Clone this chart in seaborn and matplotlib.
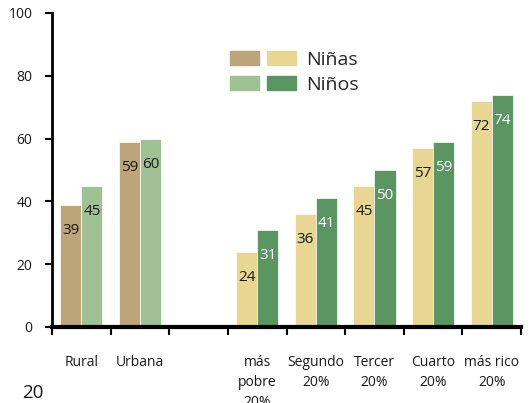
import numpy as np
import pandas as pd
import matplotlib
matplotlib.use('Agg')
import matplotlib.pyplot as plt
from matplotlib.patches import Patch
from matplotlib.legend_handler import HandlerTuple
import seaborn as sns

# datos (%)
categorias = ['Rural', 'Urbana', ' ', 'más\npobre\n20%', 'Segundo\n20%',
              'Tercer\n20%', 'Cuarto\n20%', 'más rico\n20%']
area = ['Rural', 'Urbana']
quintiles = ['más\npobre\n20%', 'Segundo\n20%', 'Tercer\n20%', 'Cuarto\n20%', 'más rico\n20%']
ninas_area = [39, 59]
ninos_area = [45, 60]
ninas_quintil = [24, 36, 45, 57, 72]
ninos_quintil = [31, 41, 50, 59, 74]
sexos = ['Niñas', 'Niños']
yticks = [0, 20, 40, 60, 80, 100]

df_area = pd.DataFrame({
    'Categoria': area * 2,
    'Sexo': ['Niñas'] * len(area) + ['Niños'] * len(area),
    'Valor': ninas_area + ninos_area,
})
df_quintil = pd.DataFrame({
    'Categoria': quintiles * 2,
    'Sexo': ['Niñas'] * len(quintiles) + ['Niños'] * len(quintiles),
    'Valor': ninas_quintil + ninos_quintil,
})

tan, verde_claro = '#BCA578', '#9FC193'
amarillo, verde = '#E8D792', '#5B9561'

sns.set_style('white')
plt.rcParams['font.family'] = ['Open Sans', 'DejaVu Sans']

fig = plt.figure(figsize=(5.32, 4.03), dpi=100)
ax = fig.add_axes([52 / 532, 76 / 403, 469 / 532, 314 / 403])

common = dict(x='Categoria', y='Valor', hue='Sexo', order=categorias, hue_order=sexos,
              width=0.72, saturation=1, errorbar=None, legend=False, ax=ax,
              edgecolor='white', linewidth=0.5)
sns.barplot(data=df_area, palette=[tan, verde_claro], **common)
sns.barplot(data=df_quintil, palette=[amarillo, verde], **common)

# etiquetas de valor dentro de las barras
colores_txt = ['#1a1a1a', '#1a1a1a', '#1a1a1a', 'white']
for cont, col in zip(ax.containers, colores_txt):
    for bar in cont:
        h = bar.get_height()
        if np.isnan(h):
            continue
        ax.annotate(f'{h:.0f}', (bar.get_x() + bar.get_width() / 2, h),
                    xytext=(0, -17), textcoords='offset points',
                    ha='center', va='center_baseline', fontsize=11, color=col)

ax.set_ylim(0, 100)
ax.set_xlim(-0.5, len(categorias) - 0.5)
ax.set_yticks(yticks)
ax.set_yticklabels([str(v) for v in yticks], fontsize=10, color='#1a1a1a')
ax.set_xticks(np.arange(-0.5, len(categorias), 1))
ax.set_xticklabels([])
ax.set_xticks(np.arange(len(categorias)), labels=categorias, minor=True)
ax.tick_params(axis='x', which='minor', bottom=True, length=0, pad=20, labelsize=10,
               labelcolor='#1a1a1a')
ax.tick_params(axis='x', which='major', bottom=True, direction='out', length=6,
               width=1.5, color='black')
ax.tick_params(axis='y', left=True, direction='out', length=5, width=1.5, pad=9,
               color='black')
ax.set_xlabel('')
ax.set_ylabel('')
for lbl in ax.get_xticklabels(minor=True):
    lbl.set_linespacing(1.45)

sns.despine(ax=ax)
ax.spines['left'].set_linewidth(2)
ax.spines['bottom'].set_linewidth(3)
ax.spines['left'].set_color('black')
ax.spines['bottom'].set_color('black')

handles = [(Patch(color=tan), Patch(color=amarillo)),
           (Patch(color=verde_claro), Patch(color=verde))]
ax.legend(handles, sexos, handler_map={tuple: HandlerTuple(ndivide=None, pad=0.41)},
          handlelength=3.4, handleheight=0.7, handletextpad=0.5, labelspacing=0.35,
          fontsize=14, frameon=False, borderpad=0, borderaxespad=0,
          loc='upper left', bbox_to_anchor=(230 / 532, 1 - 51 / 403),
          bbox_transform=fig.transFigure)

fig.text(22 / 532, 5 / 403, '20', fontsize=13.5, color='#1a1a1a', va='baseline')

fig.savefig('out.png', dpi=100)
